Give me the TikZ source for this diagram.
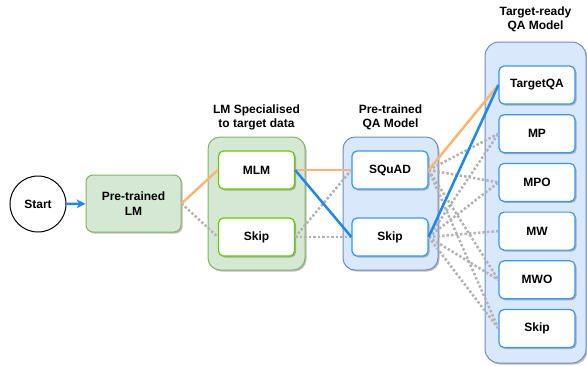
\documentclass[tikz,border=0pt]{standalone}
\usepackage{fontspec}
\setsansfont{Liberation Sans}
\usepackage{xcolor}
\usepackage{tikz}
\usetikzlibrary{positioning,arrows.meta,shadows}
\definecolor{grpgreen}{HTML}{D5E8D4}
\definecolor{grpgreenline}{HTML}{82B366}
\definecolor{grpblue}{HTML}{DAE8FC}
\definecolor{grpblueline}{HTML}{6C8EBF}
\definecolor{optgreenline}{HTML}{66CC00}
\definecolor{optblueline}{HTML}{3399FF}
\definecolor{pickorange}{HTML}{FFB570}
\definecolor{pickblue}{HTML}{1E88F0}
\definecolor{skipgray}{HTML}{B3B3B3}

\begin{document}
\begin{tikzpicture}[x=1pt, y=-1pt, font=\sffamily\bfseries\fontsize{12}{14.5}\selectfont,
	shade/.style={drop shadow={shadow xshift=1.5pt, shadow yshift=-1.5pt, fill=black, opacity=0.25}},
	startnode/.style={circle, draw, line width=1pt, fill=white, minimum size=56pt, inner sep=0pt},
	lmbox/.style={draw=grpgreenline, fill=grpgreen, line width=1pt, rounded corners=7pt, shade, minimum width=95pt, minimum height=57pt, align=center},
	grp/.style={line width=1pt, rounded corners=12pt, shade},
	opt/.style={fill=white, line width=1.2pt, rounded corners=5pt, shade, minimum width=76pt, minimum height=38pt, align=center},
	grptitle/.style={align=center, inner sep=0pt},
	pick/.style={draw=pickorange, line width=2.5pt},
	best/.style={draw=pickblue, line width=2.5pt},
	skipped/.style={draw=skipgray, line width=2.5pt, dash pattern=on 2.5pt off 2pt}]
	\useasboundingbox (0,0) rectangle (587,365);
	\node[startnode] (start) at (38,204) {Start};
	\node[lmbox] (ptlm) at (133.5,203.5) {Pre-trained\\LM};

	\node[grp, fill=grpgreen, draw=grpgreenline, minimum width=97pt, minimum height=133pt] (spec) at (256.5,203.5) {};
	\node[grptitle, above=6pt of spec] (spectitle) {LM Specialised\\to target data};
	\node[opt, draw=optgreenline] (mlm) at (256.5,170) {MLM};
	\node[opt, draw=optgreenline] (gskip) at (256.5,237) {Skip};

	\node[grp, fill=grpblue, draw=grpblueline, minimum width=95pt, minimum height=133pt] (ptqa) at (390.5,203.5) {};
	\node[grptitle, above=6pt of ptqa] (ptqatitle) {Pre-trained\\QA Model};
	\node[opt, draw=optblueline] (squad) at (390,170) {SQuAD};
	\node[opt, draw=optblueline] (bskip) at (390,237) {Skip};

	\node[grp, fill=grpblue, draw=grpblueline, rounded corners=14pt, minimum width=101pt, minimum height=321pt] (tqam) at (535.5,202.5) {};
	\node[grptitle, above=9pt of tqam] (tqamtitle) {Target-ready\\QA Model};
	\node[opt, draw=optblueline] (tqa) at (537,85) {TargetQA};
	\node[opt, draw=optblueline, below=9.5pt of tqa] (mp) {MP};
	\node[opt, draw=optblueline, below=9.5pt of mp] (mpo) {MPO};
	\node[opt, draw=optblueline, below=9.5pt of mpo] (mw) {MW};
	\node[opt, draw=optblueline, below=9.5pt of mw] (mwo) {MWO};
	\node[opt, draw=optblueline, below=9.5pt of mwo] (rskip) {Skip};

	\draw[skipped] (ptlm.east) -- (gskip.west);
	\draw[skipped] (gskip.east) -- (squad.west);
	\draw[skipped] (gskip.east) -- (bskip.west);
	\draw[skipped] (squad.east) -- (mp.west);
	\draw[skipped] (squad.east) -- (mpo.west);
	\draw[skipped] (squad.east) -- (mwo.west);
	\draw[skipped] (squad.east) -- (rskip.west);
	\draw[skipped] (bskip.east) -- (mp.west);
	\draw[skipped] (bskip.east) -- (mpo.west);
	\draw[skipped] (bskip.east) -- (mw.west);
	\draw[skipped] (bskip.east) -- (mwo.west);
	\draw[skipped] (bskip.east) -- (rskip.west);

	\draw[pick] (ptlm.east) -- (mlm.west);
	\draw[pick] (mlm.east) -- (squad.west);
	\draw[pick] (squad.east) -- (tqa.west);

	\draw[best, -{Stealth[length=9pt, width=9pt]}] (start) -- (ptlm);
	\draw[best] (mlm.east) -- (bskip.west);
	\draw[best] (bskip.east) -- (tqa.west);
\end{tikzpicture}
\end{document}
